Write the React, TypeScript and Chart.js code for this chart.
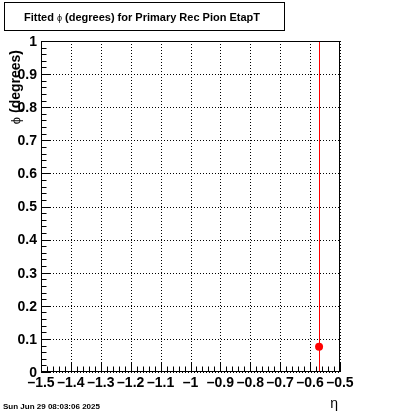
import { useEffect, useRef } from "react";
import { Chart, registerables } from "chart.js";

Chart.register(...registerables);

// ---- data ----
const etaValues = [-0.57];
const phiValues = [0.076];
const phiErrors = [1.2];

const xTicks = [-1.5, -1.4, -1.3, -1.2, -1.1, -1.0, -0.9, -0.8, -0.7, -0.6, -0.5];
const xTickLabels = ["–1.5", "–1.4", "–1.3", "–1.2", "–1.1", "–1", "–0.9", "–0.8", "–0.7", "–0.6", "–0.5"];
const yTicks = [0, 0.1, 0.2, 0.3, 0.4, 0.5, 0.6, 0.7, 0.8, 0.9, 1];
const yTickLabels = ["0", "0.1", "0.2", "0.3", "0.4", "0.5", "0.6", "0.7", "0.8", "0.9", "1"];

const titleBefore = "Fitted ";
const titleSymbol = "ϕ";
const titleAfter = " (degrees) for Primary Rec Pion EtapT";
const xTitle = "η";
const yTitleSymbol = "ϕ";
const yTitleRest = " (degrees)";
const dateText = "Sun Jun 29 08:03:06 2025";

const FONT = "'Liberation Sans', Arial, Helvetica, sans-serif";

const rootPlugin = {
  id: "rootStyle",
  beforeDatasetsDraw(chart: any) {
    const { ctx, chartArea: a } = chart;
    const xs = chart.scales.x;
    const ys = chart.scales.y;
    ctx.save();
    // dotted grid
    ctx.strokeStyle = "#000";
    ctx.lineWidth = 1;
    ctx.setLineDash([1, 2]);
    for (const v of xTicks) {
      const px = Math.round(xs.getPixelForValue(v)) + 0.5;
      ctx.beginPath();
      ctx.moveTo(px, a.top);
      ctx.lineTo(px, a.bottom);
      ctx.stroke();
    }
    for (const v of yTicks) {
      const py = Math.round(ys.getPixelForValue(v)) + 0.5;
      ctx.beginPath();
      ctx.moveTo(a.left, py);
      ctx.lineTo(a.right, py);
      ctx.stroke();
    }
    ctx.setLineDash([]);
    // error bars
    ctx.beginPath();
    ctx.rect(a.left, a.top, a.right - a.left, a.bottom - a.top);
    ctx.clip();
    ctx.strokeStyle = "#ff0000";
    ctx.lineWidth = 1;
    etaValues.forEach((x, i) => {
      const px = Math.round(xs.getPixelForValue(x)) + 0.5;
      const y1 = ys.getPixelForValue(phiValues[i] - phiErrors[i]);
      const y2 = ys.getPixelForValue(phiValues[i] + phiErrors[i]);
      ctx.beginPath();
      ctx.moveTo(px, y1);
      ctx.lineTo(px, y2);
      ctx.stroke();
    });
    ctx.restore();
  },
  afterDraw(chart: any) {
    const { ctx, chartArea: a } = chart;
    const xs = chart.scales.x;
    const ys = chart.scales.y;
    ctx.save();
    ctx.strokeStyle = "#000";
    ctx.lineWidth = 1;
    const L = Math.round(a.left) + 0.5;
    const R = Math.round(a.right) - 0.5;
    const T = Math.round(a.top) + 0.5;
    const B = Math.round(a.bottom) - 0.5;
    ctx.strokeRect(L, T, R - L, B - T);

    // x ticks
    ctx.beginPath();
    for (let i = 0; i < xTicks.length; i++) {
      const px = Math.round(xs.getPixelForValue(xTicks[i])) + 0.5;
      ctx.moveTo(px, B);
      ctx.lineTo(px, B - 9);
      if (i < xTicks.length - 1) {
        const step = (xTicks[i + 1] - xTicks[i]) / 5;
        for (let k = 1; k < 5; k++) {
          const mx = Math.round(xs.getPixelForValue(xTicks[i] + k * step)) + 0.5;
          ctx.moveTo(mx, B);
          ctx.lineTo(mx, B - 5);
        }
      }
    }
    // y ticks
    for (let i = 0; i < yTicks.length; i++) {
      const py = Math.round(ys.getPixelForValue(yTicks[i])) + 0.5;
      ctx.moveTo(L, py);
      ctx.lineTo(L + 9, py);
      if (i < yTicks.length - 1) {
        const step = (yTicks[i + 1] - yTicks[i]) / 5;
        for (let k = 1; k < 5; k++) {
          const my = Math.round(ys.getPixelForValue(yTicks[i] + k * step)) + 0.5;
          ctx.moveTo(L, my);
          ctx.lineTo(L + 5, my);
        }
      }
    }
    ctx.stroke();

    // tick labels
    ctx.fillStyle = "#000";
    ctx.font = `bold 14px ${FONT}`;
    ctx.textAlign = "center";
    ctx.textBaseline = "alphabetic";
    xTicks.forEach((v, i) => {
      ctx.fillText(xTickLabels[i], xs.getPixelForValue(v), a.bottom + 15);
    });
    ctx.textAlign = "right";
    ctx.textBaseline = "middle";
    yTicks.forEach((v, i) => {
      ctx.fillText(yTickLabels[i], a.left - 4, ys.getPixelForValue(v) + 1);
    });

    // x title
    ctx.font = `14px ${FONT}`;
    ctx.textAlign = "right";
    ctx.textBaseline = "alphabetic";
    ctx.fillText(xTitle, a.right - 2, 408);

    // y title (rotated)
    ctx.save();
    ctx.translate(20, a.top + 9);
    ctx.rotate(-Math.PI / 2);
    ctx.textAlign = "left";
    ctx.textBaseline = "alphabetic";
    ctx.font = `bold 14px ${FONT}`;
    const restW = ctx.measureText(yTitleRest).width;
    ctx.font = `13px ${FONT}`;
    const symW = ctx.measureText(yTitleSymbol).width;
    const start = -(restW + symW);
    ctx.fillText(yTitleSymbol, start, 0);
    ctx.font = `bold 14px ${FONT}`;
    ctx.fillText(yTitleRest, start + symW, 0);
    ctx.restore();

    // title box
    ctx.strokeRect(4.5, 2.5, 280, 28);
    ctx.font = `bold 11px ${FONT}`;
    const w1 = ctx.measureText(titleBefore).width;
    const w3 = ctx.measureText(titleAfter).width;
    ctx.font = `9px ${FONT}`;
    const w2 = ctx.measureText(titleSymbol).width;
    let tx = 142 - (w1 + w2 + w3) / 2;
    ctx.textAlign = "left";
    ctx.font = `bold 11px ${FONT}`;
    ctx.fillText(titleBefore, tx, 21);
    tx += w1;
    ctx.font = `9px ${FONT}`;
    ctx.fillText(titleSymbol, tx, 21);
    tx += w2;
    ctx.font = `bold 11px ${FONT}`;
    ctx.fillText(titleAfter, tx, 21);

    // date
    ctx.font = `bold 8px ${FONT}`;
    ctx.fillText(dateText, 3, 409);
    ctx.restore();
  },
};

export default function App() {
  const ref = useRef<HTMLCanvasElement | null>(null);
  useEffect(() => {
    if (!ref.current) return;
    const chart = new Chart(ref.current, {
      type: "scatter",
      data: {
        datasets: [
          {
            data: etaValues.map((x, i) => ({ x, y: phiValues[i] })),
            backgroundColor: "#ff0000",
            borderColor: "#ff0000",
            pointRadius: 4,
            pointStyle: "circle",
            borderWidth: 0,
          },
        ],
      },
      options: {
        responsive: false,
        animation: false,
        layout: { padding: { left: 41, top: 41, right: 60, bottom: 42 } },
        scales: {
          x: { type: "linear", min: -1.5, max: -0.5, display: false },
          y: { type: "linear", min: 0, max: 1, display: false },
        },
        plugins: { legend: { display: false }, tooltip: { enabled: false } },
      },
      plugins: [rootPlugin],
    } as any);
    return () => chart.destroy();
  }, []);
  return (
    <div style={{ position: "fixed", left: 0, top: 0, width: 400, height: 414, background: "#fff" }}>
      <canvas ref={ref} width={400} height={414} style={{ width: 400, height: 414 }} />
    </div>
  );
}
